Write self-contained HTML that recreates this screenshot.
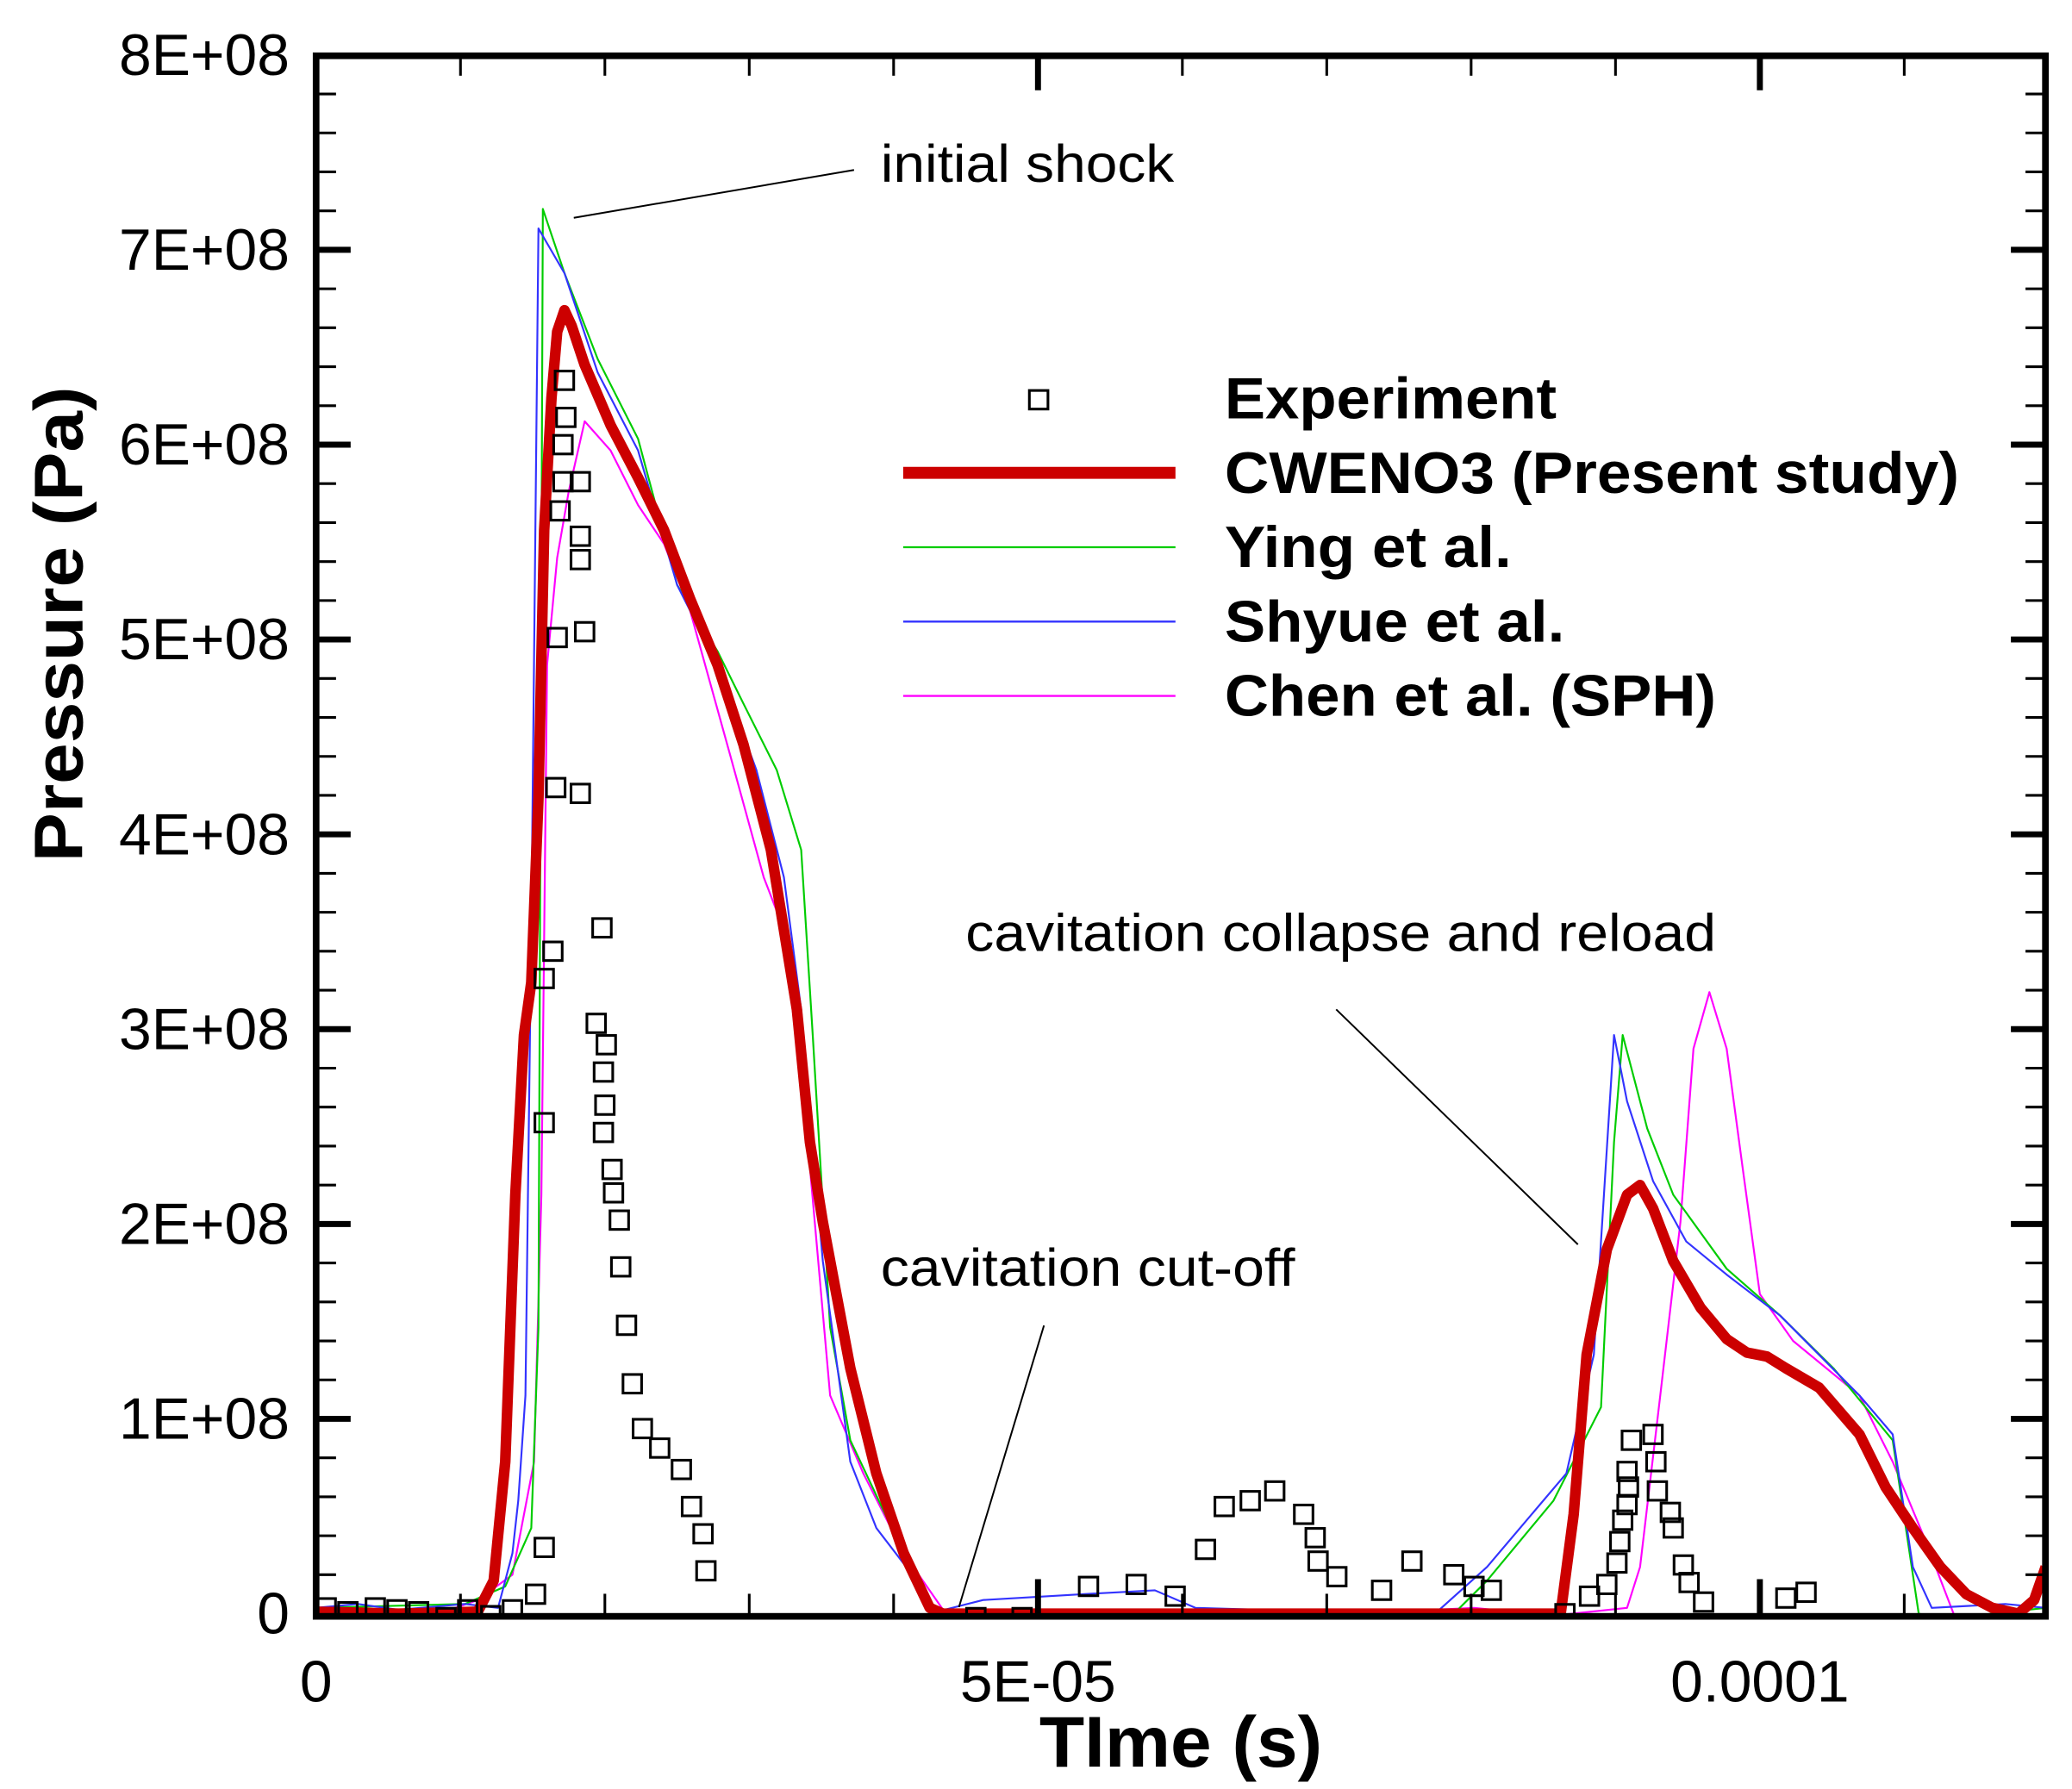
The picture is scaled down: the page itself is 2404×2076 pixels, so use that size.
<!DOCTYPE html>
<html><head><meta charset="utf-8"><style>
html,body{margin:0;padding:0;background:#fff;}
svg{display:block;}
text{font-family:"Liberation Sans",sans-serif;fill:#000;}
</style></head><body>
<svg id="chart" xmlns="http://www.w3.org/2000/svg" width="2404" height="2076" viewBox="0 0 1560 1347" preserveAspectRatio="none">
<g id="marks"></g>
<g id="axes"></g>
<g>
<text x="663" y="137" font-size="40" textLength="221" lengthAdjust="spacingAndGlyphs">initial shock</text>
<line x1="432" y1="164" x2="643" y2="128" stroke="#000" stroke-width="1.3"/>
<text x="727" y="716" font-size="40" textLength="565" lengthAdjust="spacingAndGlyphs">cavitation collapse and reload</text>
<line x1="1006" y1="760" x2="1188" y2="937" stroke="#000" stroke-width="1.3"/>
<text x="663" y="968" font-size="40" textLength="312" lengthAdjust="spacingAndGlyphs">cavitation cut-off</text>
<line x1="786" y1="998" x2="722" y2="1210" stroke="#000" stroke-width="1.3"/>
</g>
<g>
<rect x="775" y="294" width="14" height="14" fill="none" stroke="#000" stroke-width="2"/>
<text x="922" y="315" font-size="44" font-weight="bold" textLength="250" lengthAdjust="spacingAndGlyphs">Experiment</text>
<line x1="680" y1="356" x2="885" y2="356" stroke="#cc0000" stroke-width="9"/>
<text x="922" y="371" font-size="44" font-weight="bold" textLength="553" lengthAdjust="spacingAndGlyphs">CWENO3 (Present study)</text>
<line x1="680" y1="412" x2="885" y2="412" stroke="#00cc00" stroke-width="1.5"/>
<text x="922" y="427" font-size="44" font-weight="bold" textLength="216" lengthAdjust="spacingAndGlyphs">Ying et al.</text>
<line x1="680" y1="468" x2="885" y2="468" stroke="#3333ff" stroke-width="1.5"/>
<text x="922" y="483" font-size="44" font-weight="bold" textLength="256" lengthAdjust="spacingAndGlyphs">Shyue et al.</text>
<line x1="680" y1="524" x2="885" y2="524" stroke="#ff00ff" stroke-width="1.5"/>
<text x="922" y="539" font-size="44" font-weight="bold" textLength="370" lengthAdjust="spacingAndGlyphs">Chen et al. (SPH)</text>
</g>
<text x="889" y="1330" font-size="54" font-weight="bold" text-anchor="middle" textLength="213" lengthAdjust="spacingAndGlyphs">TIme (s)</text>
<text transform="translate(62,470) rotate(-90)" font-size="52" font-weight="bold" text-anchor="middle" textLength="358" lengthAdjust="spacingAndGlyphs">Pressure (Pa)</text>
</svg>
<script>
// time in microseconds, pressure in 1e8 Pa
const redT=[0,5.7,11.2,12.3,13.1,13.8,14.4,14.9,15.4,15.8,16.3,16.7,17.2,17.7,18.6,20.4,22.3,24.1,25.9,27.8,29.6,31.5,33.3,34.2,35.1,37.0,38.8,40.7,42.5,43.4,60.9,86.2,87.1,88.0,89.4,90.8,91.7,92.6,94.0,95.9,97.7,99.1,100.5,101.8,104.1,106.9,108.7,110.6,112.5,114.3,116.1,117.9,119.0,119.8];
const redP=[0.01,0,0.01,0.17,0.78,2.15,2.97,3.24,4.19,5.56,6.24,6.58,6.69,6.61,6.41,6.10,5.83,5.56,5.21,4.87,4.46,3.92,3.10,2.42,2.01,1.26,0.72,0.31,0.03,0,0,0,0.51,1.33,1.87,2.15,2.20,2.08,1.81,1.57,1.41,1.34,1.32,1.26,1.16,0.92,0.65,0.44,0.24,0.10,0.03,0,0.07,0.24];
const greenT=[0,10.3,13.1,14.9,15.4,15.7,17.2,19.5,22.3,25.0,27.8,29.6,31.9,33.6,34.4,35.6,37.0,40.7,43.0,60.9,78.4,81.1,85.7,89.0,89.9,90.5,92.2,94.0,97.7,101.4,105.1,109.2,111.0,113.2,116.1,119.8];
const greenP=[0.03,0.05,0.14,0.44,1.47,7.21,6.88,6.44,6.03,5.28,4.94,4.67,4.33,3.92,2.97,1.47,0.89,0.31,0,0,-0.03,0.17,0.58,1.06,2.42,2.97,2.49,2.15,1.77,1.53,1.26,0.89,0,-0.03,0,0.03];
const blueT=[0,2.9,5.7,10.3,12.6,13.6,14.0,14.5,14.9,15.4,17.2,19.5,22.3,25.0,27.8,30.5,32.4,33.6,35.1,37.0,38.8,41.6,43.0,46.2,53.1,58.1,60.9,70.1,77.5,81.1,86.6,88.5,89.2,89.9,90.8,92.6,94.9,97.7,101.4,106.9,109.2,110.6,111.9,117.0,119.8];
const blueP=[0.03,0.05,0.02,0.05,0.03,0.31,0.58,1.12,3.51,7.11,6.88,6.37,5.97,5.28,4.87,4.33,3.78,3.10,1.81,0.78,0.44,0.17,0.01,0.07,0.10,0.12,0.03,0.01,0,0.24,0.72,1.33,2.15,2.97,2.63,2.22,1.91,1.74,1.53,1.12,0.92,0.24,0.03,0.05,0.03];
const magT=[0,2.8,5.7,8.5,11.2,13.6,15.1,15.6,16.0,16.7,17.5,18.6,20.4,22.3,24.1,25.9,28.7,31.0,32.4,34.2,35.6,37.9,40.7,43.9,48.0,52.6,60.9,66.4,72.0,80.2,85.7,90.8,91.7,93.1,94.5,95.4,96.5,97.7,98.8,100.0,102.3,106.9,109.2,111.5,114.3];
const magP=[0,-0.03,-0.02,0,0.07,0.20,0.78,2.15,4.87,5.42,5.76,6.12,5.97,5.69,5.49,5.15,4.40,3.78,3.51,2.29,1.12,0.72,0.31,-0.03,0.01,-0.01,0,0.01,0,0.03,-0.01,0.03,0.24,1.12,2.01,2.90,3.19,2.90,2.29,1.64,1.40,1.12,0.78,0.37,-0.17];
const expT=[0.7,2.2,4.1,5.6,7.1,9.0,10.5,12.1,13.6,15.2,15.8,15.8,15.8,16.4,16.6,16.7,16.9,17.1,17.1,17.2,17.3,18.3,18.3,18.3,18.6,18.3,19.8,19.4,20.1,19.9,20.0,19.9,20.5,20.6,21.0,21.1,21.5,21.9,22.6,23.8,25.3,26.0,26.8,27.0,45.7,48.9,53.5,56.8,59.5,61.6,62.9,64.7,66.4,68.4,69.2,69.4,70.7,73.8,75.9,78.8,80.2,81.4,86.5,88.2,89.4,90.1,90.3,90.5,90.8,90.9,90.8,91.1,92.6,92.8,92.9,93.8,94.0,94.7,95.1,96.1,101.8,103.2];
const expP=[0.03,0.01,0.03,0.02,0.01,-0.02,0.02,-0.01,0.02,0.10,0.34,2.52,3.26,3.40,4.24,5.01,5.66,5.81,6.00,6.33,6.14,5.81,5.53,5.41,5.04,4.21,3.52,3.03,2.92,2.78,2.61,2.47,2.28,2.16,2.02,1.78,1.48,1.18,0.95,0.85,0.74,0.55,0.41,0.22,-0.02,-0.02,0.14,0.15,0.09,0.33,0.55,0.58,0.63,0.51,0.39,0.27,0.19,0.12,0.27,0.20,0.14,0.12,0,0.09,0.15,0.26,0.37,0.48,0.56,0.65,0.73,0.89,0.92,0.78,0.63,0.52,0.44,0.25,0.16,0.06,0.08,0.11];
const yTickLabels=["0","1E+08","2E+08","3E+08","4E+08","5E+08","6E+08","7E+08","8E+08"];
const xTickValues=[0,50,100];
const xTickLabels=["0","5E-05","0.0001"];

const NS="http://www.w3.org/2000/svg";
const L=238,R=1540,T=42,B=1215;
const xs=t=>L+t*10.87;
const ys=p=>B-p*146.7;
const marks=document.getElementById('marks');
const axes=document.getElementById('axes');
function mk(tag,attrs,parent){const e=document.createElementNS(NS,tag);for(const k in attrs)e.setAttribute(k,attrs[k]);parent.appendChild(e);return e;}

const defs=mk('defs',{},marks);
const cp=mk('clipPath',{id:'clip'},defs);
mk('rect',{x:L,y:T,width:R-L,height:B-T+3},cp);
const plot=mk('g',{'clip-path':'url(#clip)'},marks);

function line(T_,P_,color,w,name){
  const d=T_.map((t,i)=>(i?'L':'M')+xs(t).toFixed(1)+','+ys(P_[i]).toFixed(1)).join('');
  const p=mk('path',{d:d,fill:'none',stroke:color,'stroke-width':w,'stroke-linejoin':'round'},plot);
  
  
}
line(magT,magP,'#ff00ff',1.4,'chen-sph-line');
line(greenT,greenP,'#00cc00',1.4,'ying-line');
line(blueT,blueP,'#3333ff',1.4,'shyue-line');
line(redT,redP,'#cc0000',8,'cweno3-line');
expT.forEach((t,i)=>{
  const r=mk('rect',{x:xs(t)-7,y:ys(expP[i])-7,width:14,height:14,fill:'none',stroke:'#000','stroke-width':2},plot);
  
  
});

const fr=mk('rect',{x:L,y:T,width:R-L,height:B-T+2,fill:'none',stroke:'#000','stroke-width':5},axes);


for(let i=1;i<40;i++){
  const y=ys(i*0.2), major=(i%5===0), len=major?26:15, w=major?4.5:2;
  mk('line',{x1:L,y1:y,x2:L+len,y2:y,stroke:'#000','stroke-width':w},axes);
  mk('line',{x1:R,y1:y,x2:R-len,y2:y,stroke:'#000','stroke-width':w},axes);
}
yTickLabels.forEach((s,i)=>{
  const tx=mk('text',{x:218,y:ys(i)+15,'font-size':44,'text-anchor':'end'},axes);
  tx.textContent=s;
  
  
});
for(let i=1;i<=11;i++){
  const t=i*10, x=xs(t), major=(t%50===0), len=major?26:15, w=major?4.5:2;
  mk('line',{x1:x,y1:B,x2:x,y2:B-len,stroke:'#000','stroke-width':w},axes);
  mk('line',{x1:x,y1:T,x2:x,y2:T+len,stroke:'#000','stroke-width':w},axes);
}
xTickValues.forEach((v,i)=>{
  const tx=mk('text',{x:xs(v),y:1281,'font-size':44,'text-anchor':'middle'},axes);
  tx.textContent=xTickLabels[i];
  
  
});
</script>
</body></html>
